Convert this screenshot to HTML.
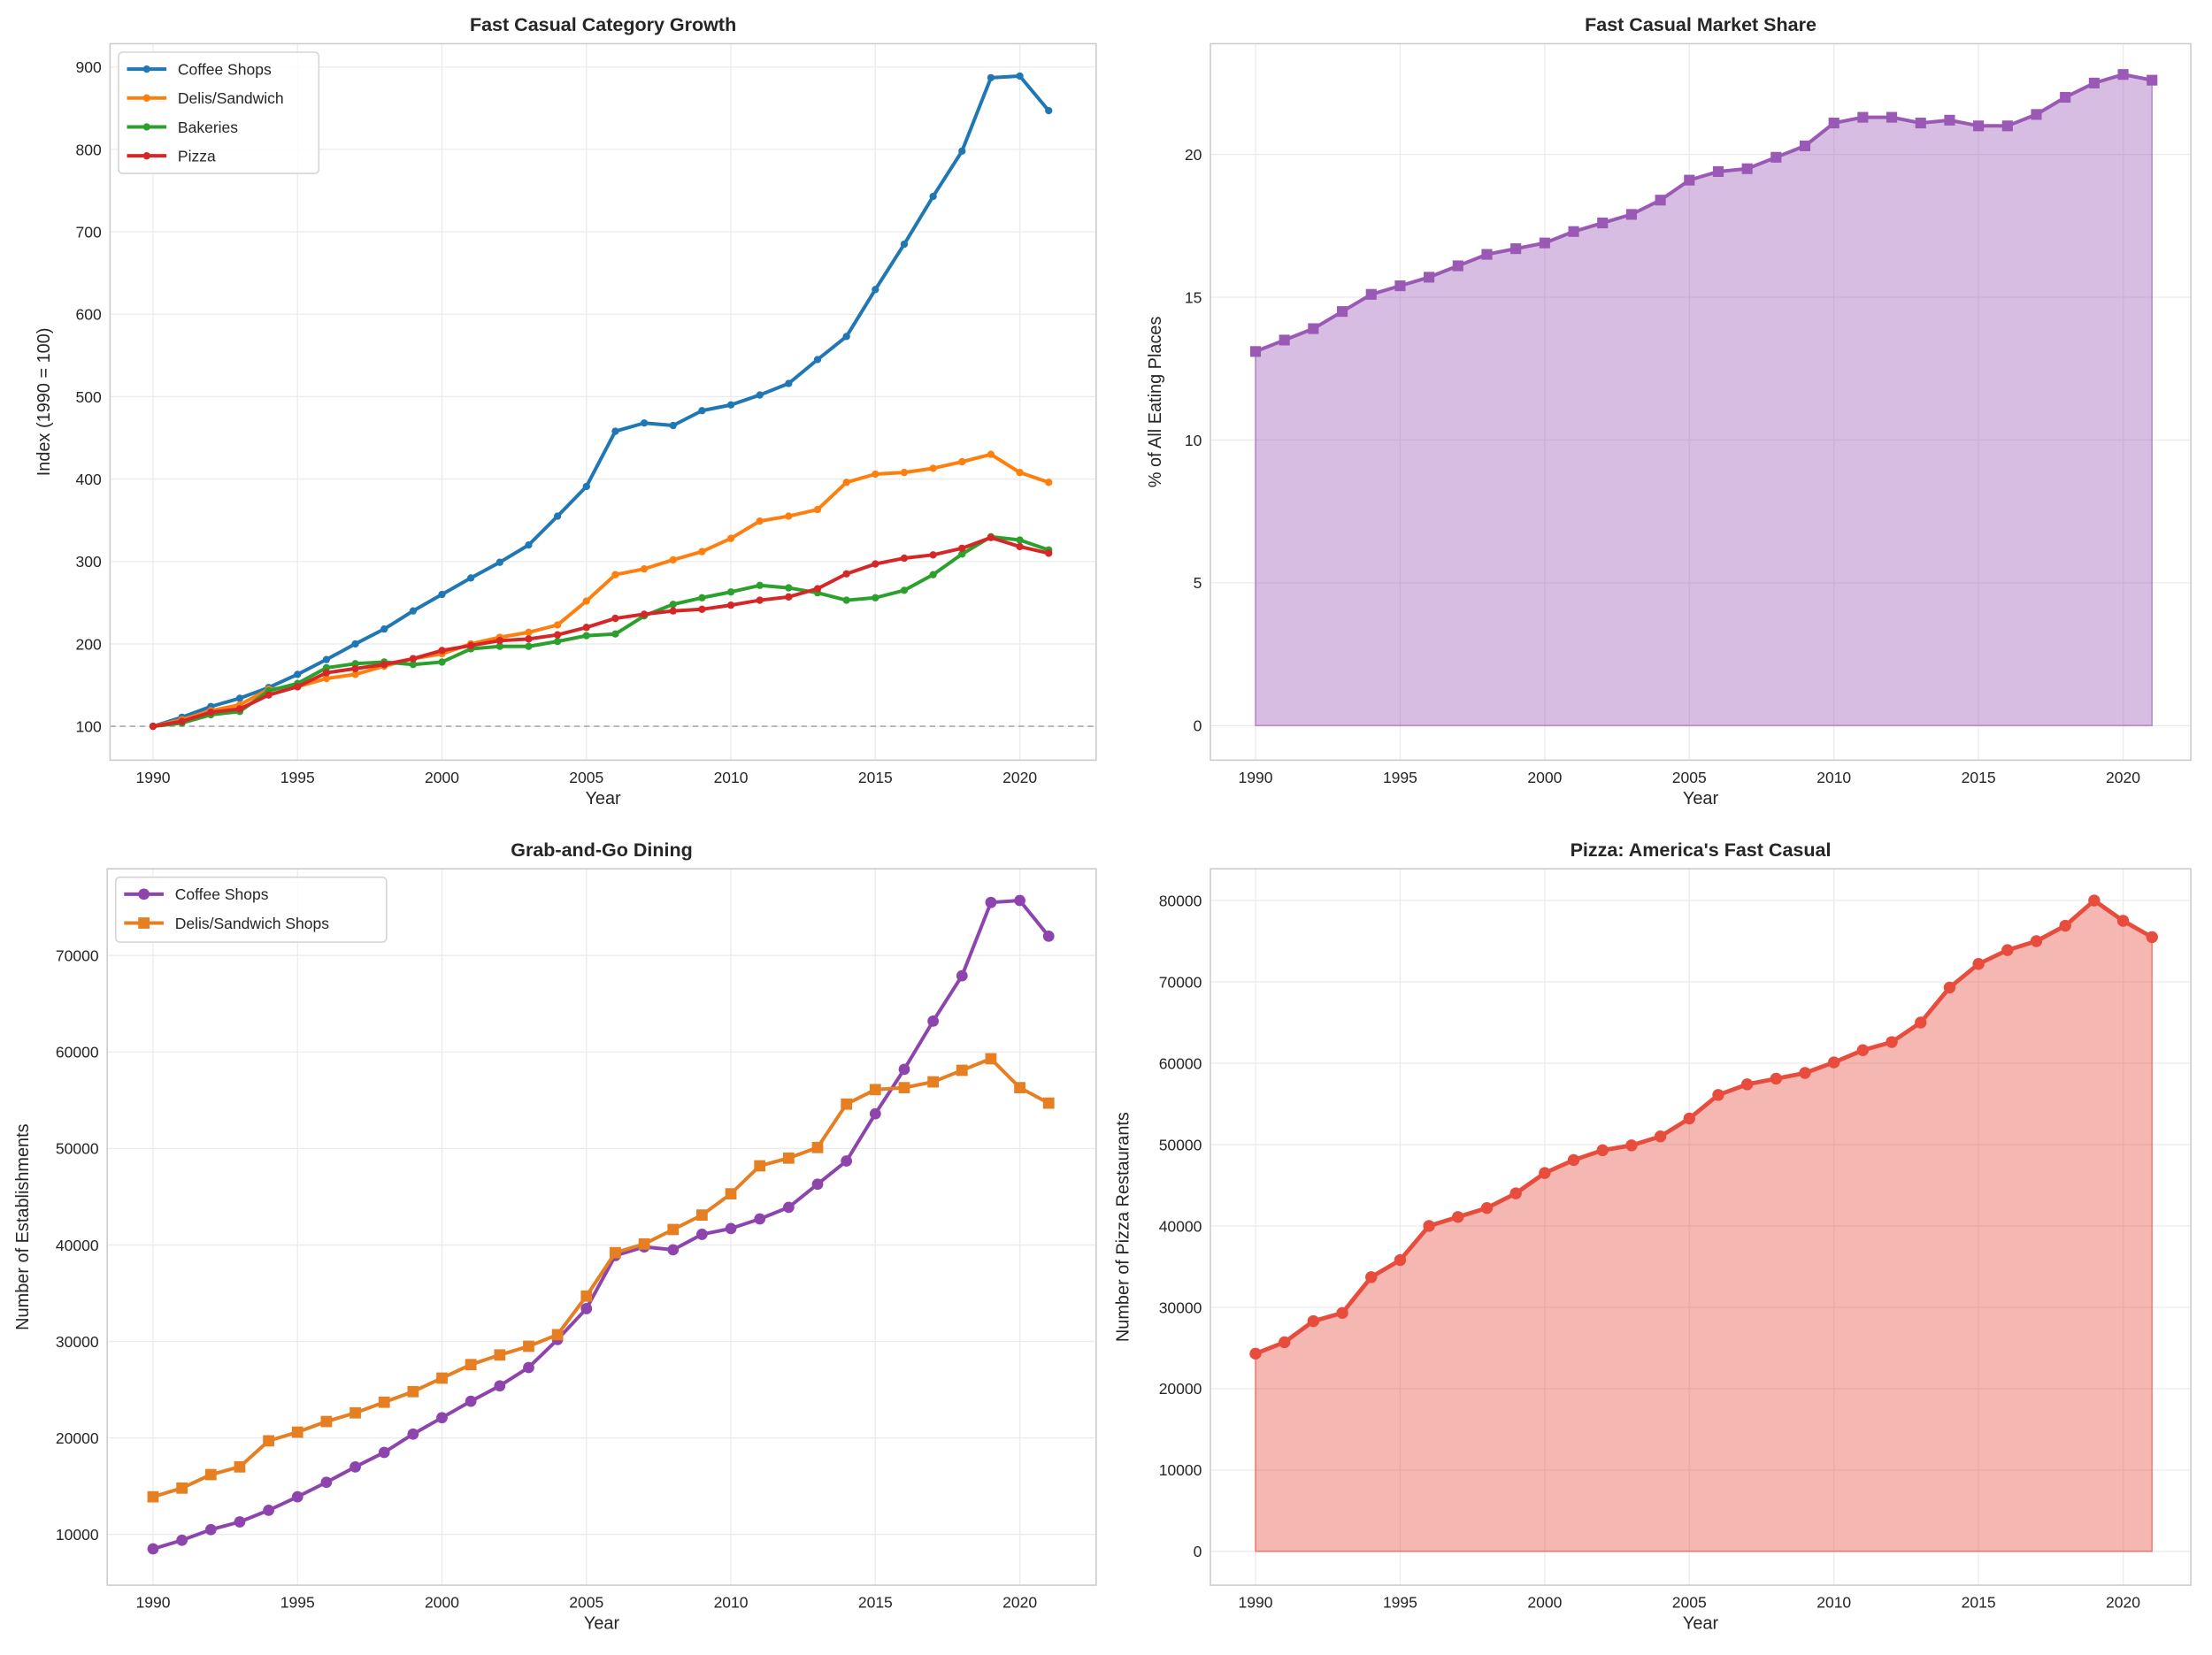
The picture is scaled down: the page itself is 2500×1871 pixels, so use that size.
<!DOCTYPE html>
<html><head><meta charset="utf-8"><style>
html,body{margin:0;padding:0;background:#fff}
svg{display:block}
text{font-family:"Liberation Sans",sans-serif;fill:#262626}
</style></head><body>
<svg id="fig" width="2500" height="1871" viewBox="0 0 1568 1173.5" preserveAspectRatio="none" xmlns="http://www.w3.org/2000/svg"></svg>
<script>
const years = Array.from({length:32},(_, i)=>1990+i);
const xTicks = [1990,1995,2000,2005,2010,2015,2020];
// Panel 1
const coffeeIdx = [100,111,124,134,147,163,181,200,218,240,260,280,299,320,355,391,458,468,465,483,490,502,516,545,573,630,685,743,798,887,889,847];
const delisIdx = [100,108,119,126,145,148,158,163,173,182,188,200,208,214,223,252,284,291,302,312,328,349,355,363,396,406,408,413,421,430,408,396];
const bakeriesIdx = [100,104,114,118,143,152,171,176,178,175,178,194,197,197,203,210,212,234,248,256,263,271,268,262,253,256,265,284,309,330,326,314];
const pizzaIdx = [100,106,117,121,138,148,165,170,175,182,192,198,204,206,211,220,231,236,240,242,247,253,257,267,285,297,304,308,316,329,318,310];
const p1Ticks = [100,200,300,400,500,600,700,800,900];
// Panel 2
const marketShare = [13.1,13.5,13.9,14.5,15.1,15.4,15.7,16.1,16.5,16.7,16.9,17.3,17.6,17.9,18.4,19.1,19.4,19.5,19.9,20.3,21.1,21.3,21.3,21.1,21.2,21.0,21.0,21.4,22.0,22.5,22.8,22.6];
const p2Ticks = [0,5,10,15,20];
// Panel 3
const coffeeEst = [8500,9400,10500,11300,12500,13900,15400,17000,18500,20400,22100,23800,25400,27300,30200,33400,38900,39800,39500,41100,41700,42700,43900,46300,48700,53600,58200,63200,67900,75500,75700,72000];
const delisEst = [13900,14800,16200,17000,19700,20600,21700,22600,23700,24800,26200,27600,28600,29500,30700,34700,39200,40100,41600,43100,45300,48200,49000,50100,54600,56100,56300,56900,58100,59300,56300,54700];
const p3Ticks = [10000,20000,30000,40000,50000,60000,70000];
// Panel 4
const pizzaCount = [24300,25700,28300,29300,33700,35800,40000,41100,42200,44000,46500,48100,49300,49900,51000,53200,56100,57400,58100,58800,60100,61600,62600,65000,69300,72200,73900,75000,76900,80000,77500,75500];
const p4Ticks = [0,10000,20000,30000,40000,50000,60000,70000,80000];

const NS="http://www.w3.org/2000/svg";
const svg=document.getElementById('fig');
function mk(tag,attrs,parent){const e=document.createElementNS(NS,tag);for(const k in attrs)e.setAttribute(k,attrs[k]);(parent||svg).appendChild(e);return e;}

function panel(o){
  const g=mk('g',{});
  
  
  const X=v=>o.x0+(v-1990)*o.dx;
  const Y=v=>o.y0+(v-o.v0)*o.dy;
  xTicks.forEach(t=>{const l=mk('line',{x1:X(t),x2:X(t),y1:o.t,y2:o.b,stroke:'#ebebeb','stroke-width':0.8},g);
    
    const tx=mk('text',{x:X(t),y:o.b+16,'text-anchor':'middle','font-size':11},g);tx.textContent=t;
    });
  o.yt.forEach(t=>{const l=mk('line',{x1:o.l,x2:o.r,y1:Y(t),y2:Y(t),stroke:'#ebebeb','stroke-width':0.8},g);
    
    const tx=mk('text',{x:o.l-6,y:Y(t)+4,'text-anchor':'end','font-size':11},g);tx.textContent=t;
    });
  if(o.extra)o.extra(g,X,Y);
  o.series.forEach(s=>{
    const pts=years.map((yr,i)=>[X(yr),Y(s.v[i])]);
    if(s.fill){const a=mk('path',{d:'M'+X(1990)+','+Y(0)+' L'+pts.map(p=>p.join(',')).join(' L')+' L'+X(2021)+','+Y(0)+'Z',fill:s.c,'fill-opacity':0.4,stroke:s.c,'stroke-opacity':0.6,'stroke-width':1},g);
      }
    const pl=mk('polyline',{points:pts.map(p=>p.join(',')).join(' '),fill:'none',stroke:s.c,'stroke-width':s.w,'stroke-linejoin':'round'},g);
    
    pts.forEach(p=>{let m;
      if(s.m==='sq')m=mk('rect',{x:p[0]-s.r,y:p[1]-s.r,width:2*s.r,height:2*s.r,fill:s.c},g);
      else m=mk('circle',{cx:p[0],cy:p[1],r:s.r,fill:s.c},g);
      });
  });
  const fr=mk('rect',{x:o.l,y:o.t,width:o.r-o.l,height:o.b-o.t,fill:'none',stroke:'#cccccc','stroke-width':1},g);
  
  const ti=mk('text',{x:(o.l+o.r)/2,y:o.t-9,'text-anchor':'middle','font-size':13.5,'font-weight':'bold'},g);ti.textContent=o.title;
  
  const xl=mk('text',{x:(o.l+o.r)/2,y:o.b+31,'text-anchor':'middle','font-size':12.5},g);xl.textContent='Year';
  
  const yl=mk('text',{x:0,y:0,'text-anchor':'middle','font-size':12.5,transform:'translate('+o.ylx+','+(o.t+o.b)/2+') rotate(-90)'},g);yl.textContent=o.ylabel;
  
  if(o.legend){
    const lg=mk('g',{},g);
    
    const h=o.legend.length*20+6;
    mk('rect',{x:o.l+6,y:o.t+6,width:o.legW,height:h,rx:3,fill:'#fff','fill-opacity':0.85,stroke:'#d5d5d5'},lg);
    o.legend.forEach((s,i)=>{const yy=o.t+18+i*20.5;
      const e=mk('g',{},lg);
      
      mk('line',{x1:o.l+12,x2:o.l+40,y1:yy,y2:yy,stroke:s.c,'stroke-width':s.w},e);
      if(s.m==='sq')mk('rect',{x:o.l+26-s.r,y:yy-s.r,width:2*s.r,height:2*s.r,fill:s.c},e);else mk('circle',{cx:o.l+26,cy:yy,r:s.r,fill:s.c},e);
      const t=mk('text',{x:o.l+48,y:yy+4,'font-size':11},e);t.textContent=s.label;});
  }
}
const s1=[{name:'coffee-shops',label:'Coffee Shops',v:coffeeIdx,c:'#1f77b4',w:2.5,r:2.6},
 {name:'delis-sandwich',label:'Delis/Sandwich',v:delisIdx,c:'#ff7f0e',w:2.5,r:2.6},
 {name:'bakeries',label:'Bakeries',v:bakeriesIdx,c:'#2ca02c',w:2.5,r:2.6},
 {name:'pizza',label:'Pizza',v:pizzaIdx,c:'#d62728',w:2.5,r:2.6}];
panel({name:'category-growth-chart',l:78,r:777,t:31,b:539,x0:108.5,dx:20.48,v0:100,y0:515,dy:-(515-47.5)/800,yt:p1Ticks,
 title:'Fast Casual Category Growth',ylabel:'Index (1990 = 100)',ylx:35,series:s1,legend:s1,legW:142,
 extra:(g,X,Y)=>{const l=mk('line',{x1:78,x2:777,y1:Y(100),y2:Y(100),stroke:'#999','stroke-width':1,'stroke-dasharray':'4,3',opacity:0.8},g);
  }});
panel({name:'market-share-chart',l:858,r:1553,t:31,b:539,x0:890,dx:20.5,v0:0,y0:514.5,dy:-(514.5-109.5)/20,yt:p2Ticks,
 title:'Fast Casual Market Share',ylabel:'% of All Eating Places',ylx:823,
 series:[{name:'market-share',v:marketShare,c:'#9b59b6',w:2.5,r:3.8,m:'sq',fill:true}]});
const s3=[{name:'coffee-shops-est',label:'Coffee Shops',v:coffeeEst,c:'#8e44ad',w:2.5,r:4},
 {name:'delis-est',label:'Delis/Sandwich Shops',v:delisEst,c:'#e67e22',w:2.5,r:4,m:'sq'}];
panel({name:'grab-and-go-chart',l:76,r:777,t:616,b:1124,x0:108.5,dx:20.48,v0:10000,y0:1088,dy:-(1088-677.5)/60000,yt:p3Ticks,
 title:'Grab-and-Go Dining',ylabel:'Number of Establishments',ylx:20,series:s3,legend:s3,legW:192});
panel({name:'pizza-chart',l:858,r:1553,t:616,b:1124,x0:890,dx:20.5,v0:0,y0:1100,dy:-(1100-638.5)/80000,yt:p4Ticks,
 title:"Pizza: America's Fast Casual",ylabel:'Number of Pizza Restaurants',ylx:800,
 series:[{name:'pizza-restaurants',v:pizzaCount,c:'#e74c3c',w:3,r:4.2,fill:true}]});
</script>
</body></html>
